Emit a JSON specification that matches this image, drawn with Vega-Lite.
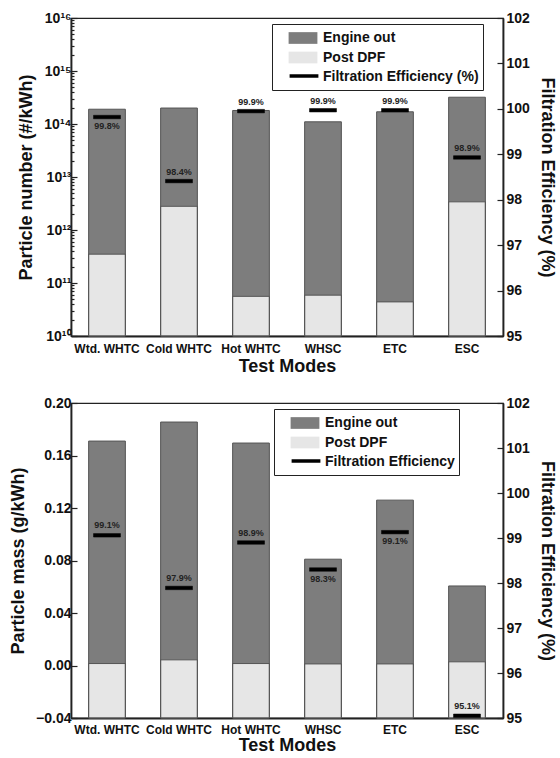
{
  "$schema": "https://vega.github.io/schema/vega-lite/v6.json",
  "background": "white",
  "padding": {"left": 8, "top": 10, "right": 5, "bottom": 0},
  "spacing": 19,
  "config": {
    "font": "Liberation Sans",
    "view": {"stroke": "#222", "strokeWidth": 1.2},
    "axis": {
      "labelFont": "Liberation Sans", "labelFontWeight": "bold", "labelFontSize": 14, "labelColor": "#111",
      "titleFont": "Liberation Sans", "titleFontWeight": "bold", "titleFontSize": 18, "titleColor": "#111",
      "domainColor": "#222", "domainWidth": 1.8, "tickColor": "#222", "tickWidth": 1.2, "grid": false
    },
    "legend": {
      "labelFont": "Liberation Sans", "labelFontWeight": "bold", "labelFontSize": 14, "labelColor": "#111", "labelLimit": 300,
      "symbolSize": 324, "rowPadding": 0.5, "symbolOffset": 17, "labelOffset": 10
    }
  },
  "datasets": {
    "pn": [
      {"mode": "Wtd. WHTC", "engine_out": 1.9e14, "post_dpf": 3.5e11, "efficiency": 99.82, "eff_label": "99.8%"},
      {"mode": "Cold WHTC", "engine_out": 2.0e14, "post_dpf": 2.8e12, "efficiency": 98.41, "eff_label": "98.4%"},
      {"mode": "Hot WHTC", "engine_out": 1.8e14, "post_dpf": 5.6e10, "efficiency": 99.95, "eff_label": "99.9%"},
      {"mode": "WHSC", "engine_out": 1.1e14, "post_dpf": 5.9e10, "efficiency": 99.97, "eff_label": "99.9%"},
      {"mode": "ETC", "engine_out": 1.7e14, "post_dpf": 4.4e10, "efficiency": 99.97, "eff_label": "99.9%"},
      {"mode": "ESC", "engine_out": 3.2e14, "post_dpf": 3.4e12, "efficiency": 98.93, "eff_label": "98.9%"}
    ],
    "pm": [
      {"mode": "Wtd. WHTC", "engine_out": 0.171, "post_dpf": 0.0015, "efficiency": 99.06, "eff_label": "99.1%"},
      {"mode": "Cold WHTC", "engine_out": 0.1855, "post_dpf": 0.0043, "efficiency": 97.89, "eff_label": "97.9%"},
      {"mode": "Hot WHTC", "engine_out": 0.1695, "post_dpf": 0.0015, "efficiency": 98.9, "eff_label": "98.9%"},
      {"mode": "WHSC", "engine_out": 0.081, "post_dpf": 0.0012, "efficiency": 98.3, "eff_label": "98.3%"},
      {"mode": "ETC", "engine_out": 0.126, "post_dpf": 0.0012, "efficiency": 99.13, "eff_label": "99.1%"},
      {"mode": "ESC", "engine_out": 0.0606, "post_dpf": 0.0028, "efficiency": 95.05, "eff_label": "95.1%"}
    ]
  },
  "resolve": {"scale": {"color": "independent", "stroke": "independent"}, "legend": {"color": "independent", "stroke": "independent"}},
  "vconcat": [
    {
      "width": 432, "height": 318,
      "data": {"name": "pn"},
      "resolve": {"scale": {"y": "independent"}},
      "layer": [
        {
          "layer": [
            {
              "mark": {"type": "bar"},
              "encoding": {
                "x": {"field": "mode", "type": "nominal", "sort": null, "scale": {"paddingInner": 0.49, "paddingOuter": 0.245},
                      "axis": {"title": "Test Modes", "labelAngle": 0, "ticks": false, "labelFontSize": 12, "labelPadding": 7, "titlePadding": 3}},
                "y": {"field": "engine_out", "type": "quantitative", "scale": {"type": "log", "domain": [1e10, 1e16]},
                      "axis": {"title": "Particle number (#/kWh)", "titlePadding": 8, "labelPadding": 6, "labelOverlap": false,
                               "values": [1e10,2e10,3e10,4e10,5e10,6e10,7e10,8e10,9e10,1e11,2e11,3e11,4e11,5e11,6e11,7e11,8e11,9e11,1e12,2e12,3e12,4e12,5e12,6e12,7e12,8e12,9e12,1e13,2e13,3e13,4e13,5e13,6e13,7e13,8e13,9e13,1e14,2e14,3e14,4e14,5e14,6e14,7e14,8e14,9e14,1e15,2e15,3e15,4e15,5e15,6e15,7e15,8e15,9e15,1e16],
                               "labelExpr": "abs(log(datum.value)/LN10 - round(log(datum.value)/LN10)) < 1e-6 ? '10' + ['¹⁰','¹¹','¹²','¹³','¹⁴','¹⁵','¹⁶'][round(log(datum.value)/LN10)-10] : ''",
                               "tickSize": {"condition": {"test": "abs(log(datum.value)/LN10 - round(log(datum.value)/LN10)) < 1e-6", "value": -6}, "value": -3}}},
                "y2": {"datum": 1e10},
                "color": {"datum": "Engine out",
                          "scale": {"domain": ["Engine out", "Post DPF", "Filtration Efficiency (%)"], "range": ["#7d7d7d", "#e6e6e6", "rgba(255,255,255,0)"]},
                          "legend": {"title": null, "orient": "none", "legendX": 201, "legendY": 6, "strokeColor": "#222", "fillColor": "white",
                                     "padding": 4, "symbolType": "M-1.6,-0.65H1.6V0.65H-1.6Z", "symbolStrokeColor": "rgba(255,255,255,0)"}}
              }
            },
            {
              "mark": {"type": "bar"},
              "encoding": {
                "x": {"field": "mode", "type": "nominal", "sort": null},
                "y": {"field": "post_dpf", "type": "quantitative"},
                "y2": {"datum": 1e10},
                "color": {"datum": "Post DPF"}
              }
            },
            {
              "mark": {"type": "bar", "fillOpacity": 0, "stroke": "#555", "strokeWidth": 1},
              "encoding": {
                "x": {"field": "mode", "type": "nominal", "sort": null},
                "y": {"field": "engine_out", "type": "quantitative"},
                "y2": {"datum": 1e10}
              }
            },
            {
              "mark": {"type": "bar", "fillOpacity": 0, "stroke": "#555", "strokeWidth": 1},
              "encoding": {
                "x": {"field": "mode", "type": "nominal", "sort": null},
                "y": {"field": "post_dpf", "type": "quantitative"},
                "y2": {"datum": 1e10}
              }
            }
          ]
        },
        {
          "layer": [
            {
              "mark": {"type": "tick", "thickness": 3.5, "size": 27, "color": "#000", "strokeWidth": 0.5, "opacity": 1},
              "encoding": {
                "x": {"field": "mode", "type": "nominal", "sort": null},
                "y": {"field": "efficiency", "type": "quantitative", "scale": {"domain": [95, 102]},
                      "axis": {"orient": "right", "title": "Filtration Efficiency (%)", "titlePadding": 8, "labelPadding": 9, "labelOverlap": false,
                               "values": [95,95.5,96,96.5,97,97.5,98,98.5,99,99.5,100,100.5,101,101.5,102],
                               "labelExpr": "datum.value % 1 == 0 ? datum.label : ''",
                               "tickSize": {"condition": {"test": "datum.value % 1 == 0", "value": -6}, "value": -3}}},
                "stroke": {"datum": "Filtration Efficiency (%)", "scale": {"range": ["#000000"]},
                           "legend": {"title": null, "orient": "none", "legendX": 205, "legendY": 47, "padding": 0, "labelExpr": "''",
                                      "symbolType": "M-1.6,0H1.6", "symbolStrokeWidth": 3.5, "symbolOpacity": 1}}
              }
            },
            {
              "transform": [{"filter": "datum.mode != 'Wtd. WHTC'"}],
              "mark": {"type": "text", "fontSize": 9, "fontWeight": "bold", "color": "#222", "dy": -9},
              "encoding": {
                "x": {"field": "mode", "type": "nominal", "sort": null},
                "y": {"field": "efficiency", "type": "quantitative"},
                "text": {"field": "eff_label"}
              }
            },
            {
              "transform": [{"filter": "datum.mode == 'Wtd. WHTC'"}],
              "mark": {"type": "text", "fontSize": 9, "fontWeight": "bold", "color": "#222", "dy": 9},
              "encoding": {
                "x": {"field": "mode", "type": "nominal", "sort": null},
                "y": {"field": "efficiency", "type": "quantitative"},
                "text": {"field": "eff_label"}
              }
            }
          ]
        }
      ]
    },
    {
      "width": 432, "height": 315,
      "data": {"name": "pm"},
      "resolve": {"scale": {"y": "independent"}},
      "layer": [
        {
          "layer": [
            {
              "mark": {"type": "bar"},
              "encoding": {
                "x": {"field": "mode", "type": "nominal", "sort": null, "scale": {"paddingInner": 0.49, "paddingOuter": 0.245},
                      "axis": {"title": "Test Modes", "labelAngle": 0, "ticks": false, "labelFontSize": 12, "labelPadding": 6, "titlePadding": 1}},
                "y": {"field": "engine_out", "type": "quantitative", "scale": {"domain": [-0.04, 0.2]},
                      "axis": {"title": "Particle mass (g/kWh)", "titlePadding": 8, "labelPadding": 6, "labelOverlap": false,
                               "values": [-0.04,-0.02,0,0.02,0.04,0.06,0.08,0.1,0.12,0.14,0.16,0.18,0.2],
                               "labelExpr": "abs(datum.value*25 - round(datum.value*25)) < 1e-6 ? format(datum.value, '.2f') : ''",
                               "tickSize": {"condition": {"test": "abs(datum.value*25 - round(datum.value*25)) < 1e-6", "value": -6}, "value": -3}}},
                "y2": {"datum": -0.04},
                "color": {"datum": "Engine out",
                          "scale": {"domain": ["Engine out", "Post DPF", "Filtration Efficiency"], "range": ["#7d7d7d", "#e6e6e6", "rgba(255,255,255,0)"]},
                          "legend": {"title": null, "orient": "none", "legendX": 203, "legendY": 6, "strokeColor": "#222", "fillColor": "white",
                                     "padding": 4, "symbolType": "M-1.6,-0.65H1.6V0.65H-1.6Z", "symbolStrokeColor": "rgba(255,255,255,0)"}}
              }
            },
            {
              "mark": {"type": "bar"},
              "encoding": {
                "x": {"field": "mode", "type": "nominal", "sort": null},
                "y": {"field": "post_dpf", "type": "quantitative"},
                "y2": {"datum": -0.04},
                "color": {"datum": "Post DPF"}
              }
            },
            {
              "mark": {"type": "bar", "fillOpacity": 0, "stroke": "#555", "strokeWidth": 1},
              "encoding": {
                "x": {"field": "mode", "type": "nominal", "sort": null},
                "y": {"field": "engine_out", "type": "quantitative"},
                "y2": {"datum": -0.04}
              }
            },
            {
              "mark": {"type": "bar", "fillOpacity": 0, "stroke": "#555", "strokeWidth": 1},
              "encoding": {
                "x": {"field": "mode", "type": "nominal", "sort": null},
                "y": {"field": "post_dpf", "type": "quantitative"},
                "y2": {"datum": -0.04}
              }
            }
          ]
        },
        {
          "layer": [
            {
              "mark": {"type": "tick", "thickness": 3.5, "size": 27, "color": "#000", "strokeWidth": 0.5, "opacity": 1},
              "encoding": {
                "x": {"field": "mode", "type": "nominal", "sort": null},
                "y": {"field": "efficiency", "type": "quantitative", "scale": {"domain": [95, 102]},
                      "axis": {"orient": "right", "title": "Filtration Efficiency (%)", "titlePadding": 8, "labelPadding": 9, "labelOverlap": false,
                               "values": [95,95.5,96,96.5,97,97.5,98,98.5,99,99.5,100,100.5,101,101.5,102],
                               "labelExpr": "datum.value % 1 == 0 ? datum.label : ''",
                               "tickSize": {"condition": {"test": "datum.value % 1 == 0", "value": -6}, "value": -3}}},
                "stroke": {"datum": "Filtration Efficiency", "scale": {"range": ["#000000"]},
                           "legend": {"title": null, "orient": "none", "legendX": 207, "legendY": 47, "padding": 0, "labelExpr": "''",
                                      "symbolType": "M-1.6,0H1.6", "symbolStrokeWidth": 3.5, "symbolOpacity": 1}}
              }
            },
            {
              "transform": [{"filter": "datum.mode != 'WHSC' && datum.mode != 'ETC'"}],
              "mark": {"type": "text", "fontSize": 9, "fontWeight": "bold", "color": "#222", "dy": -10},
              "encoding": {
                "x": {"field": "mode", "type": "nominal", "sort": null},
                "y": {"field": "efficiency", "type": "quantitative"},
                "text": {"field": "eff_label"}
              }
            },
            {
              "transform": [{"filter": "datum.mode == 'WHSC' || datum.mode == 'ETC'"}],
              "mark": {"type": "text", "fontSize": 9, "fontWeight": "bold", "color": "#222", "dy": 9},
              "encoding": {
                "x": {"field": "mode", "type": "nominal", "sort": null},
                "y": {"field": "efficiency", "type": "quantitative"},
                "text": {"field": "eff_label"}
              }
            }
          ]
        }
      ]
    }
  ]
}
